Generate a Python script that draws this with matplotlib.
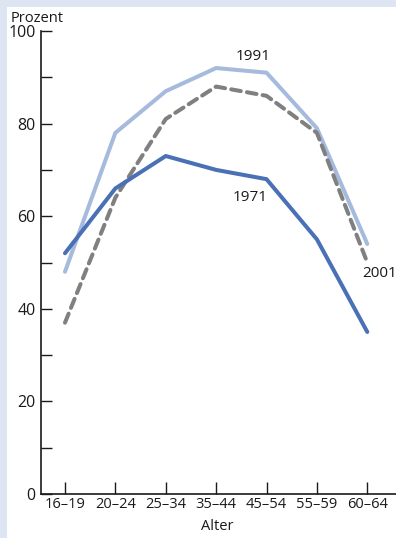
import matplotlib.pyplot as plt
from matplotlib.patches import Rectangle

# Erwerbsquote nach Alter
ages = ['16–19', '20–24', '25–34', '35–44', '45–54', '55–59', '60–64']
y1971 = [52, 66, 73, 70, 68, 55, 35]
y1991 = [48, 78, 87, 92, 91, 79, 54]
y2001 = [37, 64, 81, 88, 86, 78, 50]

plt.rcParams['font.family'] = ['Open Sans', 'DejaVu Sans']
plt.rcParams['lines.scale_dashes'] = False

W, H = 396, 538
fig = plt.figure(figsize=(W / 100, H / 100), dpi=100)
fig.patch.set_facecolor('#dde5f2')
# white panel
fig.patches.append(Rectangle((7 / W, 0), 1 - 7 / W, 1 - 7 / H,
                             transform=fig.transFigure, facecolor='white',
                             edgecolor='none', zorder=-5))

ax = fig.add_axes([41 / W, 44 / H, 1 - 41 / W, 463 / H])
ax.patch.set_alpha(0)

x = range(len(ages))
ax.plot(x, y1971, color='#4a70b6', lw=2.9, solid_capstyle='round', zorder=3)
ax.plot(x, y1991, color='#a5badd', lw=2.9, solid_capstyle='round', zorder=2)
ax.plot(x, y2001, color='#808080', lw=2.9, dashes=(7, 4.5),
        dash_capstyle='round', zorder=2.5)

ax.set_ylim(0, 100)
ax.set_xlim(-0.476, 6.57)
ax.set_xticks(list(x))
ax.set_xticklabels(ages)
ax.set_yticks([0, 20, 40, 60, 80, 100])
ax.set_yticks([10, 30, 50, 70, 90], minor=True)
ax.tick_params(axis='both', which='both', direction='in', length=8,
               width=1, colors='#1a1a1a', labelsize=11.5, labelcolor='#1a1a1a')
ax.tick_params(axis='x', length=9, pad=2, labelsize=10.5)
ax.tick_params(axis='y', which='major', pad=4)
for s in ['top', 'right']:
    ax.spines[s].set_visible(False)
for s in ['left', 'bottom']:
    ax.spines[s].set_linewidth(1.2)
    ax.spines[s].set_color('#1a1a1a')

ax.text(3.73, 94.6, '1991', fontsize=11, ha='center', va='center', color='#1a1a1a')
ax.text(3.67, 64, '1971', fontsize=11, ha='center', va='center', color='#1a1a1a')
ax.text(6.25, 47.7, '2001', fontsize=11, ha='center', va='center', color='#1a1a1a')

fig.text(11 / W, 1 - 18 / H, 'Prozent', fontsize=10.5, ha='left', va='center', color='#1a1a1a')
fig.text(217 / W, 1 - 526 / H, 'Alter', fontsize=10.5, ha='center', va='center', color='#1a1a1a')

fig.savefig('out.png', dpi=100)
